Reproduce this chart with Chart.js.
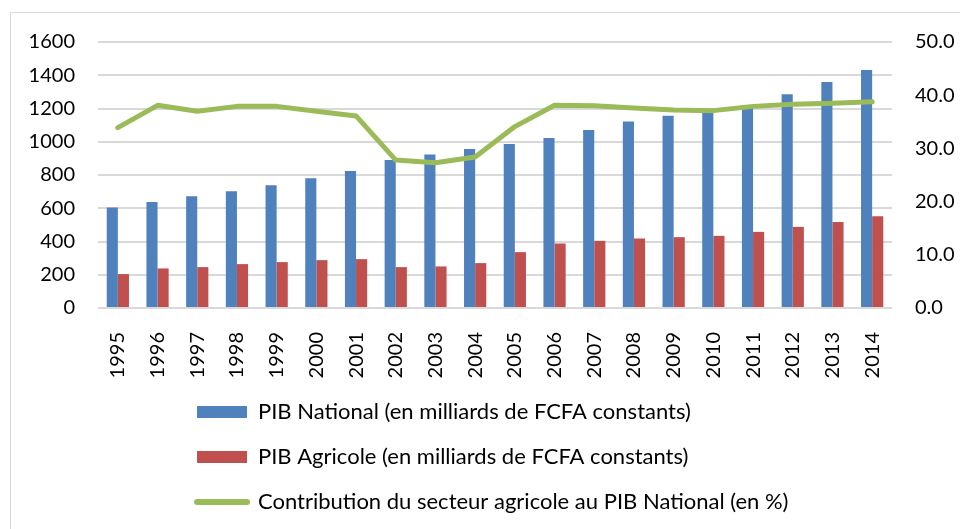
<!DOCTYPE html>
<html><head><meta charset="utf-8">
<script src="https://cdn.jsdelivr.net/npm/chart.js@4/dist/chart.umd.min.js"></script>
<style>
html,body{margin:0;padding:0;background:#fff;}
#wrap{position:relative;width:960px;height:529px;overflow:hidden;}
#frame{position:absolute;left:10px;top:12px;width:980px;height:600px;border:1px solid #d9d9d9;box-sizing:border-box;}
canvas{position:absolute;left:0;top:0;}
</style></head><body>
<div id="wrap"><div id="frame"></div><canvas id="c" width="960" height="529"></canvas></div>
<script>
const years = ['1995','1996','1997','1998','1999','2000','2001','2002','2003','2004','2005','2006','2007','2008','2009','2010','2011','2012','2013','2014'];
const pibNational = [605, 638, 672, 702, 738, 780, 824, 890, 924, 956, 986, 1022, 1070, 1122, 1156, 1180, 1218, 1286, 1360, 1432];
const pibAgricole = [204, 238, 246, 264, 276, 288, 294, 246, 250, 270, 336, 388, 404, 418, 426, 434, 458, 488, 518, 552];
const contribution = [33.9, 38.1, 37.0, 37.9, 37.9, 37.0, 36.1, 27.8, 27.3, 28.4, 34.1, 38.1, 38.0, 37.6, 37.2, 37.1, 37.9, 38.3, 38.5, 38.75];
const seriesNames = ['PIB National (en milliards de FCFA constants)', 'PIB Agricole (en milliards de FCFA constants)', 'Contribution du secteur agricole au PIB National (en %)'];
const leftTicks = [0, 200, 400, 600, 800, 1000, 1200, 1400, 1600];
const rightTicks = [0, 10, 20, 30, 40, 50];

const FONT = {family: 'Lato', size: 20};
const LEGEND_FONT = {family: 'Lato', size: 22};
const TEXT = '#000';

const legendPlacement = {
  id: 'legendPlacement',
  afterLayout(chart) {
    const lg = chart.legend;
    const pad = 23;
    lg.left = 197 - pad; lg.right = 960; lg.width = lg.right - lg.left;
    lg.top = 378; lg.bottom = 529; lg.height = lg.bottom - lg.top;
  }
};

new Chart(document.getElementById('c'), {
  data: {
    labels: years,
    datasets: [
      {type: 'bar', label: seriesNames[0], data: pibNational, backgroundColor: '#4f81bd', yAxisID: 'y', order: 1,
       categoryPercentage: 0.56, barPercentage: 1.0},
      {type: 'bar', label: seriesNames[1], data: pibAgricole, backgroundColor: '#c0504d', yAxisID: 'y', order: 1,
       categoryPercentage: 0.56, barPercentage: 1.0},
      {type: 'line', label: seriesNames[2], data: contribution, borderColor: '#9bbb59', backgroundColor: '#9bbb59',
       borderWidth: 5, pointRadius: 0, tension: 0, fill: false, yAxisID: 'y1', order: 0,
       borderCapStyle: 'round', borderJoinStyle: 'round'}
    ]
  },
  options: {
    responsive: false,
    animation: false,
    devicePixelRatio: 1,
    layout: {padding: {top: 42, left: 0, right: 0, bottom: 131}},
    plugins: {
      tooltip: {enabled: false},
      legend: {
        position: 'bottom',
        align: 'start',
        maxHeight: 20,
        labels: {
          font: LEGEND_FONT, color: TEXT, padding: 23, usePointStyle: true, pointStyleWidth: 50, boxHeight: 12,
          sort: (a, b) => a.datasetIndex - b.datasetIndex,
          generateLabels(chart) {
            const items = Chart.defaults.plugins.legend.labels.generateLabels(chart);
            return items.map(it => {
              const ds = chart.data.datasets[it.datasetIndex];
              if (ds.type === 'line') {
                it.pointStyle = 'line'; it.strokeStyle = ds.borderColor; it.fillStyle = ds.borderColor;
                it.lineWidth = 6; it.lineCap = 'round';
              } else {
                it.pointStyle = 'rect'; it.lineWidth = 0; it.fillStyle = ds.backgroundColor;
              }
              return it;
            });
          }
        }
      }
    },
    scales: {
      x: {
        offset: true,
        grid: {display: false},
        border: {display: false},
        ticks: {font: FONT, color: TEXT, minRotation: 90, maxRotation: 90, autoSkip: false, padding: 16},
        afterFit(s) { s.height = 70; }
      },
      y: {
        position: 'left', min: 0, max: 1600,
        afterBuildTicks(s) { s.ticks = leftTicks.map(v => ({value: v})); },
        grid: {color: '#d9d9d9', lineWidth: 2, drawTicks: false},
        border: {display: false},
        ticks: {font: FONT, color: TEXT, padding: 23, callback: v => String(v)},
        afterFit(s) { s.width = 98; }
      },
      y1: {
        position: 'right', min: 0, max: 50,
        afterBuildTicks(s) { s.ticks = rightTicks.map(v => ({value: v})); },
        grid: {drawOnChartArea: false, drawTicks: false},
        border: {display: false},
        ticks: {font: FONT, color: TEXT, padding: 23, callback: v => Number(v).toFixed(1)},
        afterFit(s) { s.width = 68; }
      }
    }
  },
  plugins: [legendPlacement]
});
</script>
</body></html>
